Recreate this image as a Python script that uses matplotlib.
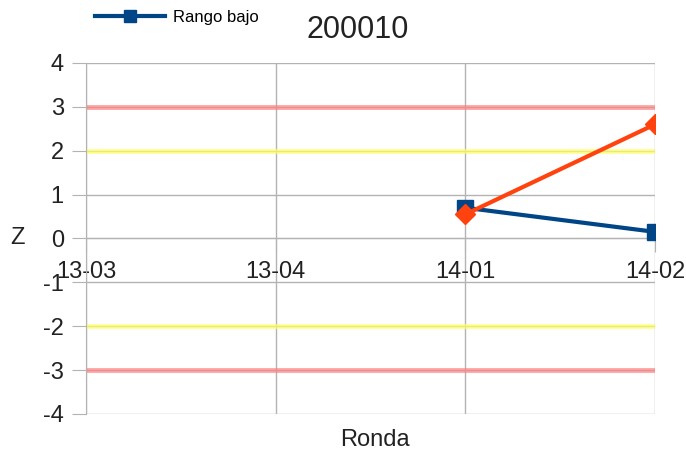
import matplotlib.pyplot as plt

plt.rcParams['font.family'] = ['Liberation Sans', 'DejaVu Sans']

# Data
rondas = ['13-03', '13-04', '14-01', '14-02']
rango_bajo = [None, None, 0.70, 0.15]
serie2 = [None, None, 0.55, 2.60]
y_ticks = [-4, -3, -2, -1, 0, 1, 2, 3, 4]
limites_rojo = [3, -3]
limites_amarillo = [2, -2]

fig = plt.figure(figsize=(6.86, 4.53), dpi=100)
ax = fig.add_axes([0.1254, 0.0861, 0.8294, 0.775])

x = list(range(len(rondas)))
grid_c = '#b3b3b3'
txt_c = '#222222'

# grid
for xi in x:
    ax.axvline(xi, color=grid_c, lw=1, zorder=0)
for yi in y_ticks:
    ax.axhline(yi, color=grid_c, lw=1, zorder=0)

# limit lines
for v in limites_rojo:
    ax.plot([x[0], x[-1]], [v, v], color='#ff8080', lw=3.5, alpha=0.7, zorder=1)
for v in limites_amarillo:
    ax.plot([x[0], x[-1]], [v, v], color='#ffff66', lw=3.5, alpha=0.7, zorder=1)

# series
xs = [i for i, v in zip(x, rango_bajo) if v is not None]
ys = [v for v in rango_bajo if v is not None]
ax.plot(xs, ys, color='#004586', lw=3, marker='s', ms=12, zorder=3, label='Rango bajo')
xs2 = [i for i, v in zip(x, serie2) if v is not None]
ys2 = [v for v in serie2 if v is not None]
ax.plot(xs2, ys2, color='#ff420e', lw=3, marker='D', ms=10, zorder=4)

ax.set_xlim(x[0], x[-1])
ax.set_ylim(-4, 4)

for s in ['top', 'right']:
    ax.spines[s].set_visible(False)
ax.spines['left'].set_color(grid_c)
ax.spines['bottom'].set_position(('data', 0))
ax.spines['bottom'].set_color(grid_c)

ax.set_yticks(y_ticks)
ax.set_yticklabels([str(v) for v in y_ticks], fontsize=17, color=txt_c)
ax.set_xticks(x)
ax.set_xticklabels(rondas, fontsize=17, color=txt_c)
ax.tick_params(axis='y', color=grid_c, length=10, pad=6)
ax.tick_params(axis='x', color=grid_c, length=10, pad=6)

fig.text(0.026, 0.474, 'Z', fontsize=17, ha='center', va='center', color=txt_c)
fig.text(0.547, 0.029, 'Ronda', fontsize=17, ha='center', va='center', color=txt_c)
fig.text(0.522, 0.934, '200010', fontsize=22, ha='center', va='center', color=txt_c)

ax.legend(loc='center left', bbox_to_anchor=(0.015, 1.13), frameon=False, fontsize=12,
          handlelength=4.2, handletextpad=0.5, markerscale=0.75, borderaxespad=0,
          borderpad=0)

fig.savefig('out.png', dpi=100)
